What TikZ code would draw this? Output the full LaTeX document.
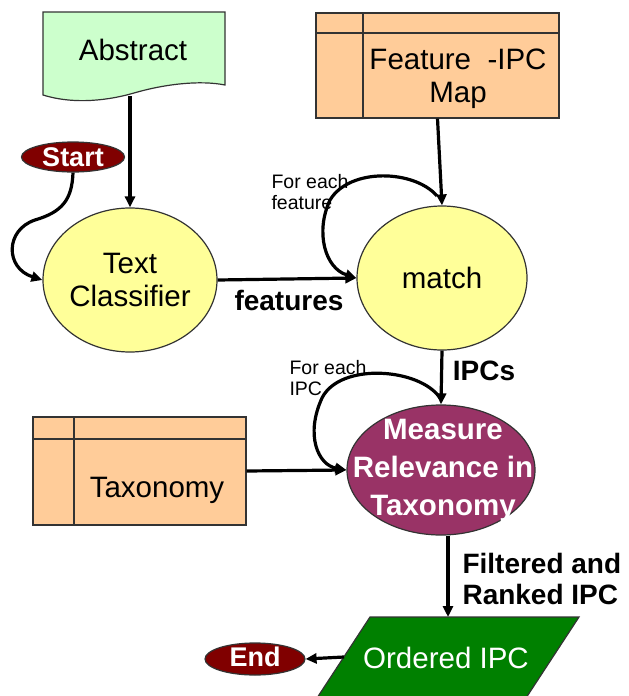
\documentclass[tikz,border=0pt]{standalone}
\usepackage{fontspec}
\setmainfont{Liberation Sans}
\usetikzlibrary{shapes.geometric,arrows.meta}
\definecolor{absgreen}{HTML}{CCFFCC}
\definecolor{peach}{HTML}{FFCC99}
\definecolor{lyellow}{HTML}{FFFF99}
\definecolor{maroon}{HTML}{800000}
\definecolor{plum}{HTML}{993366}
\definecolor{dgreen}{HTML}{008000}
\definecolor{edge}{HTML}{333333}
\begin{document}
\begin{tikzpicture}[x=1pt,y=-1pt,
  big/.style={font=\fontsize{29.5}{33}\selectfont},
  bigb/.style={font=\fontsize{28}{31}\selectfont\bfseries},
  small/.style={font=\fontsize{19.5}{21}\selectfont},
  shp/.style={draw=edge,line width=1.2pt},
  ell/.style={ellipse,shp,inner sep=0pt},
  arr/.style={line width=3.2pt,-{Triangle[length=11pt,width=10pt]}},
  termtext/.style={text=white,font=\fontsize{27}{30}\selectfont\bfseries}
]
\clip (0,0) rectangle (629,696);
\fill[white] (0,0) rectangle (629,696);

% Abstract (document shape)
\draw[shp,fill=absgreen] (43,12) -- (225,12) -- (225,85)
  .. controls (200,80) and (165,84) .. (134,93)
  .. controls (110,100) and (75,105) .. (43,95) -- cycle;
\node[big] (abstract) at (133,50) {Abstract};
\coordinate (absb) at (130,96);

% Feature-IPC Map
\node[shp,fill=peach,rectangle,minimum width=243pt,minimum height=105pt,inner sep=0pt] (fmap) at (437.5,65.5) {};
\draw[shp] (363,13) -- (363,118);
\draw[shp] (316,33) -- (559,33);
\node[big,align=center] (fmaptext) at (458,79) {Feature\ \ -IPC\\Map};

% Start
\node[ell,fill=maroon,minimum width=103pt,minimum height=30pt] (st) at (73,157) {};
\node[termtext] (sttext) at (73,157) {Start};

% Text Classifier
\node[ell,fill=lyellow,minimum width=174pt,minimum height=144pt] (tc) at (130,280) {};
\node[big,align=center] (tctext) at (130,280) {Text\\Classifier};

% match
\node[ell,fill=lyellow,minimum width=170pt,minimum height=144pt] (mt) at (442,278) {};
\node[big] (mttext) at (442,278) {match};

% Taxonomy
\node[shp,fill=peach,rectangle,minimum width=213pt,minimum height=108pt,inner sep=0pt] (tax) at (139.5,471) {};
\draw[shp] (74,417) -- (74,525);
\draw[shp] (33,439) -- (246,439);
\node[big] (taxtext) at (157,490) {Taxonomy};

% Measure
\node[ell,fill=plum,minimum width=188pt,minimum height=130pt] (ms) at (441,470) {};
\node[text=white,align=center,font=\fontsize{29.5}{38}\selectfont\bfseries] (mstext) at (443,470) {Measure\\Relevance in\\Taxonomy};

% Ordered IPC
\draw[shp,fill=dgreen] (370,617) -- (579,617) -- (526,698) -- (317,698) -- cycle;
\node[big,text=white] (ord) at (446,658) {Ordered IPC};
\coordinate (ordtop) at (448,617);
\coordinate (ordleft) at (344,657);

% End
\node[ell,fill=maroon,minimum width=100pt,minimum height=32pt] (en) at (255,659) {};
\node[termtext] (entext) at (255,657) {End};

% connectors
\draw[arr] (absb) -- (tc.north);
\draw[arr] (fmap.south) -- (mt.north);
\draw[arr] (st.south) .. controls (72,200) and (62,212) .. (35,220)
  .. controls (5,230) and (5,268) .. (tc.west);
\draw[arr] (tc.east) -- (mt.west);
\node[bigb] (featlbl) at (289,300) {features};
\coordinate (lpf) at (437,196);
\draw[arr] (lpf) .. controls (415,170) and (350,167) .. (330,200)
  .. controls (315,232) and (325,268) .. (mt.west);
\node[small,align=left,anchor=north west] (feachf) at (268,171) {For each\\feature};

\draw[arr] (mt.south) -- (ms.north);
\node[bigb] (ipcs) at (484,371) {IPCs};
\coordinate (lpi) at (440,398);
\draw[arr] (lpi) .. controls (420,368) and (340,362) .. (322,398)
  .. controls (305,435) and (318,465) .. (ms.west);
\node[small,align=left,anchor=north west] (feachi) at (286,357) {For each\\IPC};

\draw[arr] (tax.east) -- (ms.west);

\draw[arr] (ordtop |- ms.south) -- (ordtop);
\node[bigb,align=left,anchor=west] (filt) at (459,579) {Filtered and\\Ranked IPC};

\draw[arr] (ordleft) -- (en.east);
\end{tikzpicture}
\end{document}
